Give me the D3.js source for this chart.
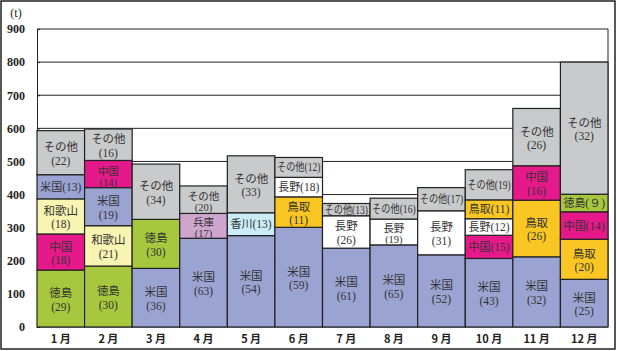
<!DOCTYPE html>
<html>
<head>
<meta charset="utf-8">
<script src="https://cdn.jsdelivr.net/npm/d3@7"></script>
<style>
body { margin: 0; background: #fff; }
</style>
</head>
<body>
<script>
// data, each month listed bottom to top
const months = ["1 月", "2 月", "3 月", "4 月", "5 月", "6 月", "7 月", "8 月", "9 月", "10 月", "11 月", "12 月"];
const names = [
  ["徳島", "中国", "和歌山", "米国", "その他"],
  ["徳島", "和歌山", "米国", "中国", "その他"],
  ["米国", "徳島", "その他"],
  ["米国", "兵庫", "その他"],
  ["米国", "香川", "その他"],
  ["米国", "鳥取", "長野", "その他"],
  ["米国", "長野", "その他"],
  ["米国", "長野", "その他"],
  ["米国", "長野", "その他"],
  ["米国", "中国", "長野", "鳥取", "その他"],
  ["米国", "鳥取", "中国", "その他"],
  ["米国", "鳥取", "中国", "徳島", "その他"]
];
const tons = [
  [172, 109, 106, 73, 133],
  [184, 122, 115, 82, 95],
  [177, 148, 167],
  [268, 75, 83],
  [276, 69, 172],
  [301, 92, 59, 60],
  [238, 98, 37],
  [248, 78, 63],
  [218, 133, 70],
  [207, 70, 50, 57, 91],
  [212, 171, 104, 173],
  [144, 121, 83, 53, 399]
];
const shares = [
  [29, 18, 18, 13, 22],
  [30, 21, 19, 14, 16],
  [36, 30, 34],
  [63, 17, 20],
  [54, 13, 33],
  [59, 11, 18, 12],
  [61, 26, 13],
  [65, 19, 16],
  [52, 31, 17],
  [43, 15, 12, 11, 19],
  [32, 26, 16, 26],
  [25, 20, 14, 9, 32]
];
// 1 = label on one line
const oneLine = [
  [0, 0, 0, 1, 0],
  [0, 0, 0, 0, 0],
  [0, 0, 0],
  [0, 0, 0],
  [0, 1, 0],
  [0, 0, 1, 1],
  [0, 0, 1],
  [0, 0, 1],
  [0, 0, 1],
  [0, 1, 1, 1, 1],
  [0, 0, 0, 0],
  [0, 0, 1, 1, 0]
];
const yTicks = [0, 100, 200, 300, 400, 500, 600, 700, 800, 900];

const colors = {
  "米国": "#9aa3d1",
  "徳島": "#a7c83e",
  "中国": "#e5198a",
  "和歌山": "#f8f4b2",
  "その他": "#c9cacc",
  "兵庫": "#cfa6d0",
  "香川": "#c9ecf6",
  "鳥取": "#f9c623",
  "長野": "#ffffff"
};

const W = 617, H = 351;
const plotLeft = 37, plotRight = 608, plotTop = 29, plotBottom = 327;
const serif = "'Liberation Serif', serif";

const svg = d3.select("body").append("svg")
  .attr("width", W)
  .attr("height", H);

// outer frame
svg.append("rect")
  .attr("x", 1).attr("y", 1)
  .attr("width", 614).attr("height", 348)
  .attr("fill", "#fff")
  .attr("stroke", "#222")
  .attr("stroke-width", 1.5);

const x = d3.scaleBand()
  .domain(months)
  .range([plotLeft, plotRight])
  .padding(0);

const y = d3.scaleLinear()
  .domain([0, 900])
  .range([plotBottom, plotTop]);

// grid lines
svg.append("g")
  .selectAll("line")
  .data(yTicks)
  .enter()
  .append("line")
  .attr("x1", plotLeft).attr("x2", plotRight)
  .attr("y1", d => y(d)).attr("y2", d => y(d))
  .attr("stroke", "#222")
  .attr("stroke-width", 1);

// right frame line
svg.append("line")
  .attr("x1", plotRight).attr("x2", plotRight)
  .attr("y1", plotTop).attr("y2", plotBottom)
  .attr("stroke", "#222");

// y axis
const yAxis = svg.append("g")
  .attr("transform", "translate(" + plotLeft + ",0)")
  .call(d3.axisLeft(y).tickValues(yTicks).tickSizeInner(-3).tickSizeOuter(0).tickPadding(12));
yAxis.select(".domain").attr("stroke", "#222");
yAxis.selectAll(".tick line").attr("stroke", "#222");
yAxis.selectAll("text")
  .attr("font-family", serif)
  .attr("font-size", 12)
  .attr("font-weight", "bold")
  .attr("fill", "#222");

svg.append("text")
  .text("(t)")
  .attr("x", 16)
  .attr("y", 17)
  .attr("text-anchor", "middle")
  .attr("font-family", serif)
  .attr("font-size", 12)
  .attr("fill", "#222");

// stacked segments
const segs = [];
months.forEach(function(m, i) {
  let base = 0;
  names[i].forEach(function(n, j) {
    segs.push({ month: m, name: n, y0: base, y1: base + tons[i][j], pct: shares[i][j], one: oneLine[i][j] });
    base += tons[i][j];
  });
});

const bw = x.bandwidth();

svg.append("g")
  .selectAll("rect")
  .data(segs)
  .enter()
  .append("rect")
  .attr("x", d => x(d.month))
  .attr("width", bw)
  .attr("y", d => y(d.y1))
  .attr("height", d => y(d.y0) - y(d.y1))
  .attr("fill", d => colors[d.name])
  .attr("stroke", "#222")
  .attr("stroke-width", 1.2);

function pctText(p) {
  // single digits shown full-width, as in the original
  return p < 10 ? "(" + String.fromCharCode(0xFF10 + p) + ")" : "(" + p + ")";
}

const labels = svg.append("g")
  .attr("font-family", "'Noto Sans CJK JP', sans-serif")
  .attr("fill", "#333")
  .attr("text-anchor", "middle");

segs.forEach(function(d) {
  const cx = x(d.month) + bw / 2;
  const cy = (y(d.y0) + y(d.y1)) / 2;
  const h = y(d.y0) - y(d.y1);
  if (d.one) {
    // condensed horizontally when it would not fit the bar
    const g = labels.append("g");
    const t = g.append("text")
      .attr("x", 0)
      .attr("y", 0)
      .attr("font-size", 11);
    t.append("tspan").text(d.name);
    t.append("tspan").attr("font-family", serif).attr("font-size", 11.5).text(pctText(d.pct));
    const w = t.node().getComputedTextLength();
    const k = Math.min(1, (bw - 4) / w);
    g.attr("transform", "translate(" + cx + "," + (cy + 4) + ") scale(" + k + ",1)");
  } else {
    // short segments get a tighter two-line block
    const tight = h < 28;
    const fs = tight ? 10.5 : 11.5;
    labels.append("text")
      .attr("x", cx)
      .attr("y", tight ? cy + 0.5 : cy - 1.5)
      .attr("font-size", fs)
      .text(d.name);
    labels.append("text")
      .attr("x", cx)
      .attr("y", tight ? cy + 11.5 : cy + 12)
      .attr("font-family", serif)
      .attr("font-size", fs)
      .text(pctText(d.pct));
  }
});

// month labels
svg.append("g")
  .selectAll("text")
  .data(months)
  .enter()
  .append("text")
  .attr("x", d => x(d) + bw / 2)
  .attr("y", 343)
  .attr("text-anchor", "middle")
  .attr("font-family", "'Noto Sans CJK JP', sans-serif")
  .attr("font-size", 11)
  .attr("font-weight", "bold")
  .attr("fill", "#222")
  .text(d => d);
</script>
</body>
</html>
